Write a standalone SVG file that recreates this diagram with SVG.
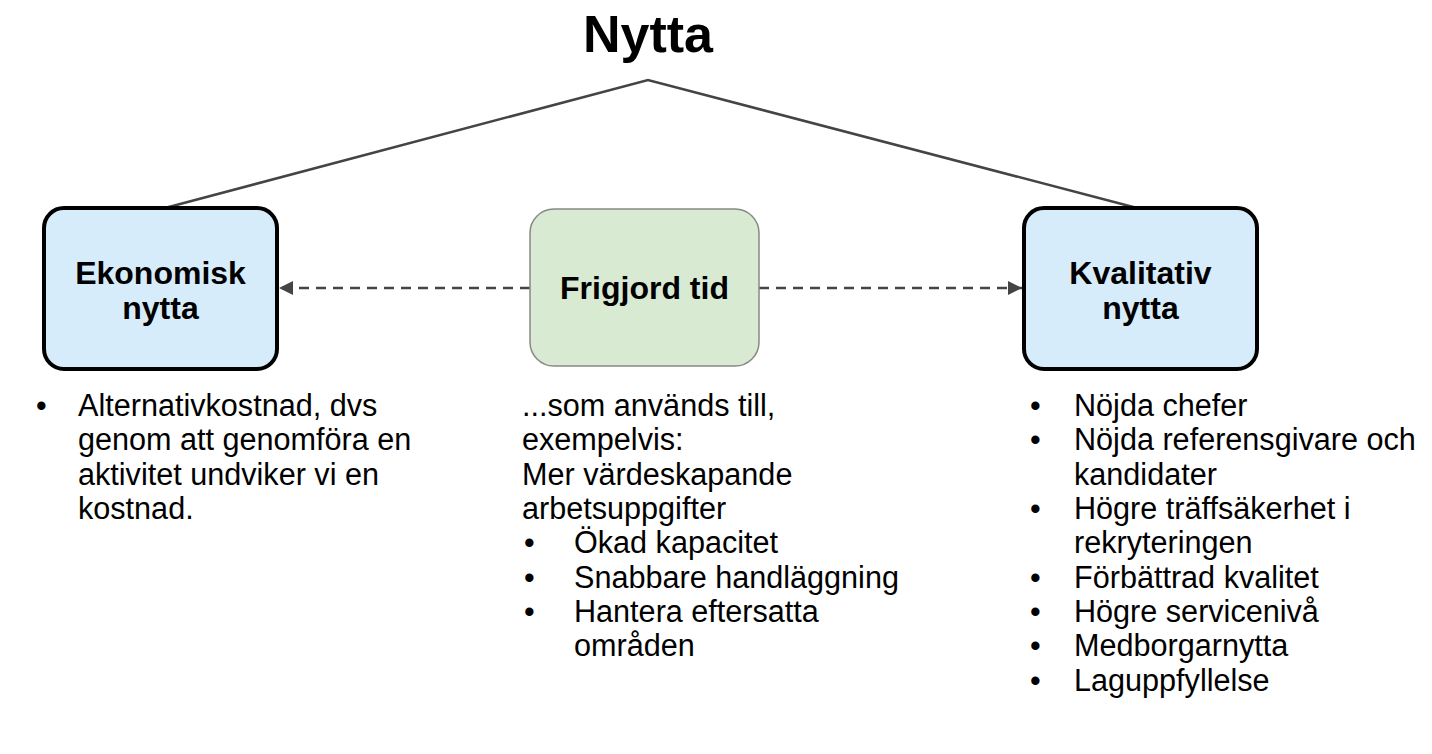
<svg xmlns="http://www.w3.org/2000/svg" width="1432" height="754" viewBox="0 0 1432 754">
<defs>
<style>
.t{font-family:"Liberation Sans",Arial,sans-serif;fill:#000}
.title{font-size:52px;font-weight:bold}
.lbl{font-size:32px;font-weight:bold}
.body{font-size:30.6px}
.main{fill:#d7ecfb;stroke:#000;stroke-width:4}
.mid{fill:#d9ead3;stroke:#888;stroke-width:1.5}
.ln{fill:none;stroke:#444;stroke-width:2.5}
.dash{fill:none;stroke:#444;stroke-width:2.5;stroke-dasharray:10 7}
</style>
<marker id="ah" viewBox="0 0 10 10" refX="10" refY="5" markerWidth="5.6" markerHeight="5.6" markerUnits="strokeWidth" orient="auto-start-reverse">
<path d="M0,0 L10,5 L0,10 z" fill="#444"/>
</marker>
</defs>
<rect width="1432" height="754" fill="#fff"/>
<text class="t title" x="648" y="52" text-anchor="middle">Nytta</text>
<g id="connectors">
<polyline class="ln" points="165,208 648,80 1137,208"/>
<line class="dash" x1="530" y1="288" x2="279" y2="288" marker-end="url(#ah)"/>
<line class="dash" x1="759" y1="288" x2="1022" y2="288" marker-end="url(#ah)"/>
</g>
<g id="ekonomisk">
<rect class="main" x="44" y="208" width="233" height="161" rx="20"/>
<text class="t lbl" x="160.5" y="284" text-anchor="middle">Ekonomisk</text>
<text class="t lbl" x="160.5" y="319" text-anchor="middle">nytta</text>
</g>
<g id="frigjord">
<rect class="mid" x="530" y="209" width="229" height="157" rx="24"/>
<text class="t lbl" x="644.5" y="299" text-anchor="middle">Frigjord tid</text>
</g>
<g id="kvalitativ">
<rect class="main" x="1024" y="208" width="233" height="161" rx="20"/>
<text class="t lbl" x="1140.5" y="284" text-anchor="middle">Kvalitativ</text>
<text class="t lbl" x="1140.5" y="319" text-anchor="middle">nytta</text>
</g>
<g id="text-left" class="t body">
<text x="36" y="416">•</text>
<text x="78" y="416">Alternativkostnad, dvs</text>
<text x="78" y="450">genom att genomföra en</text>
<text x="78" y="485">aktivitet undviker vi en</text>
<text x="78" y="519">kostnad.</text>
</g>
<g id="text-mid" class="t body">
<text x="522" y="416">...som används till,</text>
<text x="522" y="450">exempelvis:</text>
<text x="522" y="485">Mer värdeskapande</text>
<text x="522" y="519">arbetsuppgifter</text>
<text x="524" y="553">•</text><text x="574" y="553">Ökad kapacitet</text>
<text x="524" y="588">•</text><text x="574" y="588">Snabbare handläggning</text>
<text x="524" y="622">•</text><text x="574" y="622">Hantera eftersatta</text>
<text x="574" y="656">områden</text>
</g>
<g id="text-right" class="t body">
<text x="1030" y="416">•</text><text x="1074" y="416">Nöjda chefer</text>
<text x="1030" y="450">•</text><text x="1074" y="450">Nöjda referensgivare och</text>
<text x="1074" y="485">kandidater</text>
<text x="1030" y="519">•</text><text x="1074" y="519">Högre träffsäkerhet i</text>
<text x="1074" y="553">rekryteringen</text>
<text x="1030" y="588">•</text><text x="1074" y="588">Förbättrad kvalitet</text>
<text x="1030" y="622">•</text><text x="1074" y="622">Högre servicenivå</text>
<text x="1030" y="656">•</text><text x="1074" y="656">Medborgarnytta</text>
<text x="1030" y="691">•</text><text x="1074" y="691">Laguppfyllelse</text>
</g>
</svg>
